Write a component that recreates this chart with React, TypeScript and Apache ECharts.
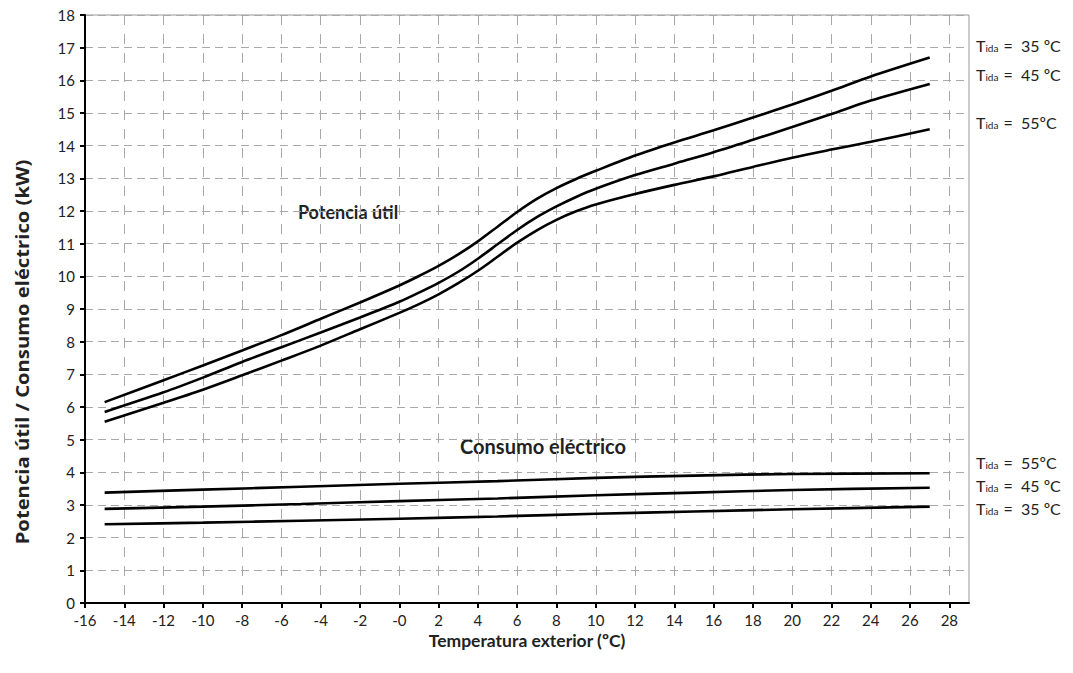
import React, { useEffect, useRef } from "react";
import * as echarts from "echarts";

const powerTemps = [-15, -12, -10, -8, -6, -4, -2, 0, 1, 2, 3, 4, 5, 6, 7, 8, 9, 10, 12, 14, 16, 18, 20, 22, 24, 27];
const power35 = [6.15, 6.82, 7.27, 7.73, 8.2, 8.7, 9.2, 9.72, 10.01, 10.32, 10.67, 11.07, 11.52, 11.97, 12.37, 12.7, 12.98, 13.23, 13.7, 14.1, 14.47, 14.86, 15.26, 15.68, 16.12, 16.7];
const power45 = [5.85, 6.45, 6.9, 7.38, 7.83, 8.28, 8.74, 9.22, 9.5, 9.8, 10.14, 10.54, 10.98, 11.42, 11.81, 12.14, 12.43, 12.68, 13.1, 13.45, 13.8, 14.18, 14.57, 14.97, 15.38, 15.89];
const power55 = [5.55, 6.13, 6.53, 6.97, 7.42, 7.88, 8.38, 8.88, 9.15, 9.45, 9.79, 10.17, 10.6, 11.03, 11.41, 11.73, 11.99, 12.2, 12.52, 12.8, 13.06, 13.35, 13.63, 13.88, 14.12, 14.5];

const consTemps = [-15, -10, -5, 0, 5, 10, 15, 20, 27];
const cons55 = [3.38, 3.47, 3.56, 3.65, 3.73, 3.83, 3.9, 3.95, 3.97];
const cons45 = [2.88, 2.95, 3.03, 3.12, 3.2, 3.3, 3.38, 3.46, 3.53];
const cons35 = [2.41, 2.46, 2.52, 2.58, 2.65, 2.73, 2.8, 2.87, 2.95];

const xTickLabels = [-16, -14, -12, -10, -8, -6, -4, -2, 0, 2, 4, 6, 8, 10, 12, 14, 16, 18, 20, 22, 24, 26, 28];

const yName = "Potencia útil / Consumo eléctrico (kW)";
const xName = "Temperatura exterior (ºC)";
const powerLabel = "Potencia útil";
const consLabel = "Consumo eléctrico";
const topLabels = ["35 ºC", "45 ºC", "55ºC"];
const bottomLabels = ["55ºC", "45 ºC", "35 ºC"];

const FONT = "Lato";

function pairs(xs: number[], ys: number[]) {
  return xs.map((x, i) => [x, ys[i]]);
}

export default function App() {
  const ref = useRef<HTMLDivElement>(null);
  useEffect(() => {
    if (!ref.current) return;
    const chart = echarts.init(ref.current, undefined, { renderer: "svg" });
    const lineSeries = (data: number[][]) => ({
      type: "line",
      data,
      smooth: 0.3,
      symbol: "none",
      lineStyle: { color: "#000", width: 2.6 },
    });
    const rich = {
      t: { fontFamily: FONT, fontSize: 16, fill: "#222", color: "#222" },
      s: { fontFamily: FONT, fontSize: 10, fill: "#222", color: "#222", padding: [6, 1, 0, 0] },
    };
    const tLabel = (txt: string, y: number) => ({
      type: "text",
      left: 976,
      top: y - 11,
      style: {
        text: "{t|T}{s|ida}{t| =  " + txt + "}",
        rich,
        fontFamily: FONT,
      },
    });
    chart.setOption({
      animation: false,
      backgroundColor: "#fff",
      textStyle: { fontFamily: FONT },
      grid: {
        left: 85,
        right: 104,
        top: 15,
        bottom: 70,
        show: true,
        borderColor: "#999",
        borderWidth: 1,
        backgroundColor: "transparent",
      },
      xAxis: {
        type: "value",
        min: -16,
        max: 29,
        interval: 1,
        name: xName,
        nameLocation: "middle",
        nameGap: 24,
        nameTextStyle: { fontFamily: FONT, fontSize: 17.5, fontWeight: "bold", color: "#222" },
        axisLine: { onZero: false, lineStyle: { color: "#000", width: 2 } },
        axisTick: { show: true, customValues: xTickLabels, length: 5, lineStyle: { color: "#000", width: 2 } },
        axisLabel: {
          customValues: xTickLabels,
          fontFamily: FONT,
          fontSize: 15,
          color: "#222",
          margin: 9,
          formatter: (v: number) => (v === 0 ? "-0" : String(v)),
        },
        splitLine: { show: true, lineStyle: { color: "#a8a8a8", width: 1, type: [10, 9] } },
      },
      yAxis: {
        type: "value",
        min: 0,
        max: 18,
        interval: 1,
        axisLine: { show: true, onZero: false, lineStyle: { color: "#000", width: 2 } },
        axisTick: { show: true, length: 5, lineStyle: { color: "#000", width: 2 } },
        axisLabel: { fontFamily: FONT, fontSize: 15, color: "#222", margin: 10 },
        splitLine: { show: true, lineStyle: { color: "#a8a8a8", width: 1, type: [8, 5] } },
      },
      series: [
        lineSeries(pairs(powerTemps, power35)),
        lineSeries(pairs(powerTemps, power45)),
        lineSeries(pairs(powerTemps, power55)),
        lineSeries(pairs(consTemps, cons55)),
        lineSeries(pairs(consTemps, cons45)),
        lineSeries(pairs(consTemps, cons35)),
      ],
      graphic: [
        {
          type: "text",
          x: 22,
          y: 352,
          rotation: Math.PI / 2,
          scaleX: 1.19,
          style: {
            text: yName,
            fontFamily: "Open Sans",
            fontSize: 17,
            fontWeight: "bold",
            fill: "#222",
            align: "center",
            verticalAlign: "middle",
          },
        },
        {
          type: "text",
          x: 348,
          y: 212,
          style: {
            text: powerLabel,
            fontFamily: FONT,
            fontSize: 18,
            fontWeight: "bold",
            fill: "#222",
            align: "center",
            verticalAlign: "middle",
          },
        },
        {
          type: "text",
          x: 543,
          y: 446,
          style: {
            text: consLabel,
            fontFamily: FONT,
            fontSize: 20,
            fontWeight: "bold",
            fill: "#222",
            align: "center",
            verticalAlign: "middle",
          },
        },
        tLabel(topLabels[0], 48),
        tLabel(topLabels[1], 77),
        tLabel(topLabels[2], 125),
        tLabel(bottomLabels[0], 465),
        tLabel(bottomLabels[1], 488),
        tLabel(bottomLabels[2], 511),
      ],
    });
    return () => chart.dispose();
  }, []);
  return <div ref={ref} style={{ width: 1073, height: 673, position: "absolute", left: 0, top: 0 }} />;
}
